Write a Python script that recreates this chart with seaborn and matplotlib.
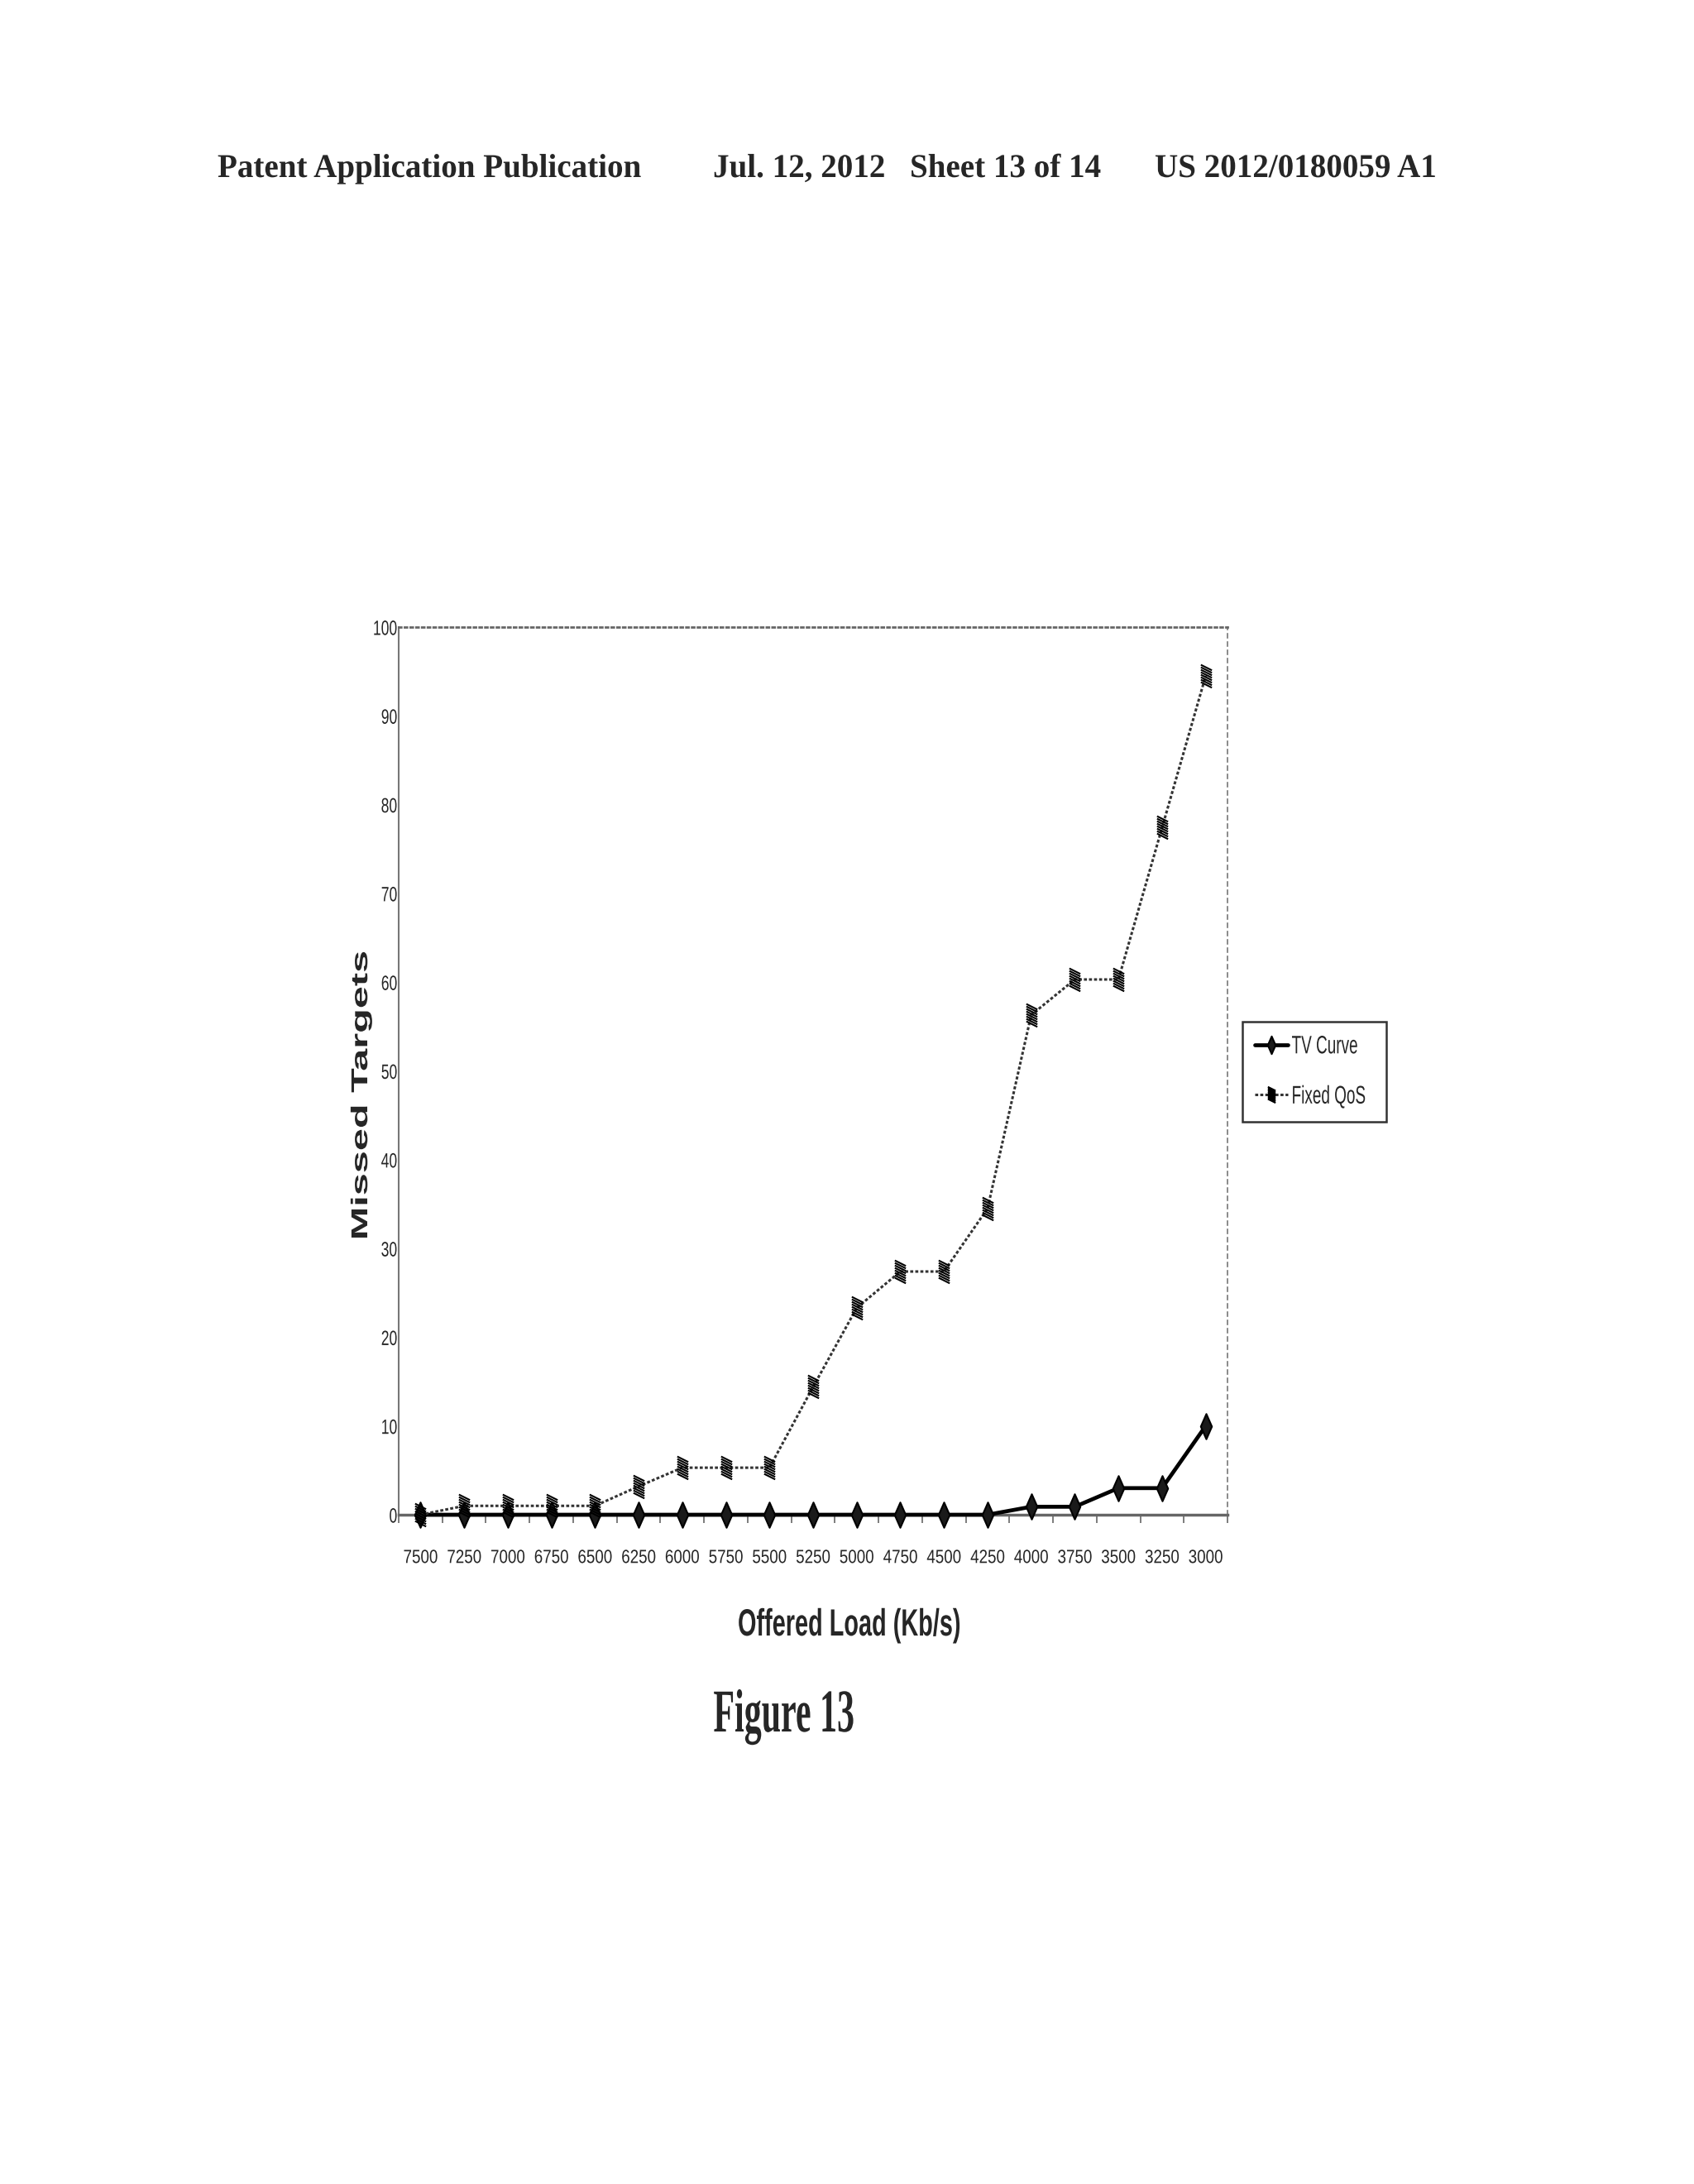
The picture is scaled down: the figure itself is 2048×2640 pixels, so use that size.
import numpy as np
import pandas as pd
import matplotlib
matplotlib.use("Agg")
import matplotlib.pyplot as plt
import seaborn as sns
from matplotlib.path import Path
from matplotlib.patheffects import AbstractPathEffect
from matplotlib.transforms import Affine2D

# ---------------- data ----------------
loads = ["7500", "7250", "7000", "6750", "6500", "6250", "6000", "5750", "5500",
         "5250", "5000", "4750", "4500", "4250", "4000", "3750", "3500", "3250", "3000"]
tv_curve = [0, 0, 0, 0, 0, 0, 0, 0, 0, 0, 0, 0, 0, 0, 0.9, 0.9, 3, 3, 10]
fixed_qos = [0, 1, 1, 1, 1, 3.2, 5.3, 5.3, 5.3, 14.4, 23.3, 27.4, 27.4, 34.5,
             56.3, 60.3, 60.3, 77.4, 94.5]
y_ticks = [0, 10, 20, 30, 40, 50, 60, 70, 80, 90, 100]

W, H = 2048, 2640


class Stretch(AbstractPathEffect):
    """Draw text horizontally scaled (text stays a Text artist)."""

    def __init__(self, sx, anchor="center"):
        super().__init__()
        self.sx = sx
        self.anchor = anchor

    def draw_path(self, renderer, gc, tpath, affine, rgbFace=None):
        ext = tpath.get_extents()
        if self.anchor == "left":
            cx = 0.0
        elif self.anchor == "right":
            cx = ext.x1
        else:
            cx = (ext.x0 + ext.x1) / 2.0
        t = Affine2D().translate(-cx, 0).scale(self.sx, 1).translate(cx, 0)
        renderer.draw_path(gc, tpath, t + affine, rgbFace)


sns.set_style("white")
plt.rcParams["font.family"] = ["Liberation Sans", "DejaVu Sans"]

fig = plt.figure(figsize=(W / 100, H / 100), dpi=100)
fig.patch.set_facecolor("white")

ax_left, ax_right, ax_top, ax_bottom = 482, 1484, 758, 1831
ax = fig.add_axes([ax_left / W, 1 - ax_bottom / H,
                   (ax_right - ax_left) / W, (ax_bottom - ax_top) / H])
ax.set_facecolor("white")

df = pd.DataFrame({"load": loads, "TV Curve": tv_curve, "Fixed QoS": fixed_qos})

# markers
diamond = Path([(0, 0.5), (0.22, 0), (0, -0.5), (-0.22, 0), (0, 0.5)],
               [Path.MOVETO, Path.LINETO, Path.LINETO, Path.LINETO, Path.CLOSEPOLY])
sv, sc = [], []
for k in range(8):
    y0 = 0.5 - k * 0.108
    sv += [(-0.24, y0), (0.24, y0 - 0.24)]
    sc += [Path.MOVETO, Path.LINETO]
stripes = Path(sv, sc)

sns.lineplot(data=df, x="load", y="TV Curve", sort=False, ax=ax, color="black",
             linewidth=3.4, marker=diamond, markersize=22,
             markerfacecolor="#1a1a1a", markeredgecolor="black",
             markeredgewidth=1.5, label="TV Curve", zorder=3, clip_on=False)
sns.lineplot(data=df, x="load", y="Fixed QoS", sort=False, ax=ax, color="#333333",
             linewidth=2.2, linestyle=(0, (1.2, 0.8)), marker=stripes,
             markersize=20, markerfacecolor="none", markeredgecolor="black",
             markeredgewidth=1.5, label="Fixed QoS", zorder=4, clip_on=False)

ax.set_xlim(-0.5, len(loads) - 0.5)
ax.set_ylim(0, 100)
ax.set_yticks(y_ticks)
ax.set_yticklabels([str(v) for v in y_ticks])
ax.set_xticks(range(len(loads)))
ax.set_xticklabels(loads)
ax.set_xticks(np.arange(-0.5, len(loads), 1.0), minor=True)
ax.tick_params(axis="x", which="major", length=0, pad=29)
ax.tick_params(axis="x", which="minor", length=7, width=1.2, color="#666666",
               direction="out", bottom=True)
ax.tick_params(axis="y", which="major", length=0, pad=1)
ax.set_xlabel("")
ax.set_ylabel("")
ax.grid(False)

for lab in ax.get_xticklabels():
    lab.set_fontsize(16.5)
    lab.set_path_effects([Stretch(0.82, "center")])
for lab in ax.get_yticklabels():
    lab.set_fontsize(18)
    lab.set_path_effects([Stretch(0.7, "right")])

# spines
for side in ["left", "right", "top", "bottom"]:
    ax.spines[side].set_visible(True)
ax.spines["left"].set_linestyle((0, (2, 1)))
ax.spines["left"].set_color("#777777")
ax.spines["left"].set_linewidth(1.5)
ax.spines["top"].set_linestyle((0, (1, 1.5)))
ax.spines["top"].set_color("#666666")
ax.spines["top"].set_linewidth(2.0)
ax.spines["right"].set_linestyle((0, (3, 3)))
ax.spines["right"].set_color("#777777")
ax.spines["right"].set_linewidth(1.2)
ax.spines["bottom"].set_linestyle((0, (1, 1)))
ax.spines["bottom"].set_color("#666666")
ax.spines["bottom"].set_linewidth(2.5)

# legend
leg = ax.legend(loc="upper left",
                bbox_to_anchor=(1502 / W, 1 - 1352 / H, 174 / W, 117 / H),
                bbox_transform=fig.transFigure, mode="expand",
                frameon=True, fancybox=False, framealpha=1, edgecolor="#333333",
                fontsize=22, handlelength=1.3, handletextpad=0.15,
                labelspacing=1.0, borderpad=0.5, borderaxespad=0,
                markerscale=0.7)
leg.get_frame().set_linewidth(1.8)
for t in leg.get_texts():
    t.set_path_effects([Stretch(0.62, "left")])

# axis titles
fig.text(437 / W, 1 - 1324 / H, "Missed Targets", rotation=90, ha="center",
         va="center", fontsize=20, fontweight="bold",
         path_effects=[Stretch(1.75, "center")])
fig.text(1027 / W, 1 - 1977 / H, "Offered Load (Kb/s)", ha="center",
         va="baseline", fontsize=33, fontweight="bold",
         path_effects=[Stretch(0.63, "center")])

# page header and caption
serif = ["Liberation Serif", "DejaVu Serif"]
hy = 1 - 214 / H
fig.text(263 / W, hy, "Patent Application Publication", family=serif,
         fontweight="bold", fontsize=29, ha="left", va="baseline",
         path_effects=[Stretch(0.97, "left")])
fig.text(862 / W, hy, "Jul. 12, 2012", family=serif,
         fontweight="bold", fontsize=29, ha="left", va="baseline",
         path_effects=[Stretch(0.97, "left")])
fig.text(1100 / W, hy, "Sheet 13 of 14", family=serif,
         fontweight="bold", fontsize=29, ha="left", va="baseline",
         path_effects=[Stretch(0.97, "left")])
fig.text(1396 / W, hy, "US 2012/0180059 A1", family=serif,
         fontweight="bold", fontsize=29, ha="left", va="baseline",
         path_effects=[Stretch(0.97, "left")])
fig.text(948 / W, 1 - 2093 / H, "Figure 13", family=serif, fontweight="bold",
         fontsize=53, ha="center", va="baseline",
         path_effects=[Stretch(0.57, "center")])

fig.savefig("out.png", dpi=100, facecolor="white")
